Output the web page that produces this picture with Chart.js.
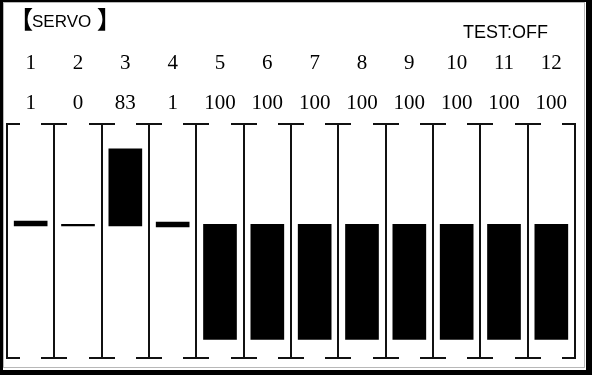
<!DOCTYPE html>
<html>
<head>
<meta charset="utf-8">
<script src="https://cdn.jsdelivr.net/npm/chart.js@4.4.1/dist/chart.umd.min.js"></script>
<style>
  html, body { margin: 0; padding: 0; background: #fff; }
  #c { display: block; }
</style>
</head>
<body>
<canvas id="c" width="592" height="375"></canvas>
<script>
// ---- data ----
const channels    = ['1','2','3','4','5','6','7','8','9','10','11','12'];
const servoValues = [1, 0, 83, 1, 100, 100, 100, 100, 100, 100, 100, 100];
// drawn bar extents (around the centre line), in the display's units
const barLow  = [-1.5, -1.5, -1.5, -2.3, -100, -100, -100, -100, -100, -100, -100, -100];
const barHigh = [ 2.9,  0.0, 65.5,  2.0,    0,    0,    0,    0,    0,    0,    0,    0];
const headerTitle = 'SERVO';
const testStatus  = 'TEST:OFF';

const framePlugin = {
  id: 'frame',
  beforeDraw(chart) {
    const ctx = chart.ctx;
    ctx.save();
    ctx.fillStyle = '#fff';
    ctx.fillRect(0, 0, chart.width, chart.height);
    ctx.restore();
  },
  afterDraw(chart) {
    const ctx = chart.ctx, W = chart.width, H = chart.height;
    ctx.save();
    // grey inner line
    ctx.strokeStyle = '#b8b8b8';
    ctx.lineWidth = 1;
    ctx.strokeRect(3.5, 2.5, W - 3.5 - 7.5, H - 2.5 - 7.5);
    // black outer frame
    ctx.fillStyle = '#000';
    ctx.fillRect(0, 0, W, 2);
    ctx.fillRect(0, 0, 3, H);
    ctx.fillRect(W - 6, 0, 6, H);
    ctx.fillRect(0, H - 5, W, 5);
    // header texts
    ctx.fillStyle = '#000';
    ctx.textBaseline = 'alphabetic';
    ctx.textAlign = 'center';
    ctx.font = 'bold 24px "Noto Sans CJK SC", sans-serif';
    ctx.fillText('【', 21, 28);
    ctx.fillText('】', 109, 28);
    ctx.textAlign = 'left';
    ctx.font = '17px "Liberation Sans", sans-serif';
    ctx.fillText(headerTitle, 32, 27);
    ctx.font = '18px "Liberation Sans", sans-serif';
    ctx.fillText(testStatus, 463, 38);
    ctx.restore();
  }
};

const capsPlugin = {
  id: 'caps',
  afterDatasetsDraw(chart) {
    const xs = chart.scales.x, area = chart.chartArea, ctx = chart.ctx;
    const n = channels.length, step = (xs.right - xs.left) / n;
    ctx.save();
    ctx.strokeStyle = '#111';
    ctx.lineWidth = 2;
    for (let i = 0; i <= n; i++) {
      const bx = Math.round(xs.left + i * step);
      const l = i === 0 ? bx : bx - 13;
      const r = i === n ? bx : bx + 13;
      [area.top + 1, area.bottom - 1].forEach(y => {
        ctx.beginPath();
        ctx.moveTo(l, y);
        ctx.lineTo(r, y);
        ctx.stroke();
      });
    }
    ctx.restore();
  }
};

new Chart(document.getElementById('c'), {
  type: 'bar',
  data: {
    labels: channels.map((c, i) => [c, String(servoValues[i])]),
    datasets: [{
      data: barLow.map((lo, i) => [lo, barHigh[i]]),
      backgroundColor: '#000',
      borderWidth: 0,
      barThickness: 33
    }]
  },
  options: {
    responsive: false,
    animation: false,
    devicePixelRatio: 1,
    layout: { padding: { top: 43, left: 7, right: 17, bottom: 16 } },
    plugins: { legend: { display: false }, tooltip: { enabled: false }, title: { display: false } },
    scales: {
      x: {
        position: 'top',
        offset: true,
        grid: { offset: true, color: '#111', lineWidth: 2, drawTicks: false },
        border: { display: false },
        ticks: {
          color: '#000',
          padding: 0,
          autoSkip: false,
          maxRotation: 0,
          font: { family: '"Liberation Serif", serif', size: 21, lineHeight: '40px' }
        }
      },
      y: { display: false, min: -117, max: 88 }
    }
  },
  plugins: [framePlugin, capsPlugin]
});
</script>
</body>
</html>
